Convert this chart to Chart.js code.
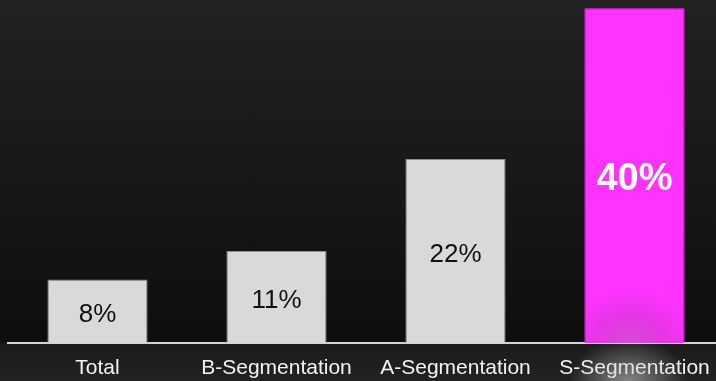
<!DOCTYPE html>
<html>
<head>
<meta charset="utf-8">
<script src="https://cdn.jsdelivr.net/npm/chart.js@4.4.1/dist/chart.umd.min.js"></script>
<style>
    html, body { margin:0; padding:0; overflow:hidden; }
    body {
        width:716px; height:381px;
        background: linear-gradient(to bottom, #222 0px, #0e0e0e 341px, #1b1b1b 344px, #222 381px);
    }
    #wrap { position:relative; width:724px; height:381px; }
</style>
</head>
<body>
<div id="wrap"><canvas id="segChart"></canvas></div>
<script>
// values (percent)
const categories = ['Total', 'B-Segmentation', 'A-Segmentation', 'S-Segmentation'];
const shares = [7.6, 11, 22, 40];
const shareLabels = ['8%', '11%', '22%', '40%'];
const barColors = ['#d9d9d9', '#d9d9d9', '#d9d9d9', '#ff33ff'];
const borderColors = ['#8c8c8c', '#8c8c8c', '#8c8c8c', '#ff33ff'];

// value labels in the middle of each bar + the floor reflection under the last one
const barText = {
    id: 'barText',
    afterDatasetsDraw(chart) {
        const ctx = chart.ctx;
        const meta = chart.getDatasetMeta(0);
        const floor = chart.chartArea.bottom;
        const last = meta.data[3];
        ctx.save();

        // darker tint on the bottom of the pink bar
        ctx.save();
        ctx.beginPath();
        ctx.rect(last.x - last.width / 2, last.y, last.width, floor - last.y);
        ctx.clip();
        ctx.translate(last.x - 4, floor);
        ctx.scale(1, 0.85);
        let g = ctx.createRadialGradient(0, 0, 0, 0, 0, 65);
        g.addColorStop(0, 'rgba(170,110,170,0.45)');
        g.addColorStop(0.6, 'rgba(150,60,150,0.2)');
        g.addColorStop(1, 'rgba(150,60,150,0)');
        ctx.fillStyle = g;
        ctx.fillRect(-80, -80, 160, 80);
        ctx.restore();

        // light glow under the axis
        ctx.save();
        ctx.beginPath();
        ctx.rect(last.x - 90, floor + 1, 180, 60);
        ctx.clip();
        ctx.translate(last.x - 6, 382);
        ctx.scale(1, 0.75);
        g = ctx.createRadialGradient(0, 0, 0, 0, 0, 60);
        g.addColorStop(0, 'rgba(200,200,200,0.6)');
        g.addColorStop(1, 'rgba(200,200,200,0)');
        ctx.fillStyle = g;
        ctx.fillRect(-80, -80, 160, 80);
        ctx.restore();

        meta.data.forEach((bar, i) => {
            const { x, y, base } = bar.getProps(['x', 'y', 'base'], true);
            const mid = (y + base) / 2;
            if (i === 3) {
                ctx.font = 'bold 38px "Liberation Sans", Arial, sans-serif';
                ctx.fillStyle = '#ffffff';
            } else {
                ctx.font = '26px "Liberation Sans", Arial, sans-serif';
                ctx.fillStyle = '#111111';
            }
            ctx.textAlign = 'center';
            ctx.textBaseline = 'middle';
            ctx.fillText(shareLabels[i], x, mid + 4);
        });
        ctx.restore();
    }
};

new Chart(document.getElementById('segChart'), {
    type: 'bar',
    data: {
        labels: categories,
        datasets: [{
            data: shares,
            backgroundColor: barColors,
            borderColor: borderColors,
            borderWidth: 1,
            categoryPercentage: 1,
            barPercentage: 0.56
        }]
    },
    options: {
        responsive: true,
        maintainAspectRatio: false,
        animation: false,
        layout: { padding: { left: 8, right: 0, top: 0, bottom: 0 } },
        plugins: { legend: { display: false }, tooltip: { enabled: false } },
        scales: {
            x: {
                grid: { display: false, drawTicks: false },
                border: { display: true, color: '#d4d4d4', width: 2 },
                ticks: {
                    color: '#f2f2f2',
                    padding: 13,
                    maxRotation: 0,
                    autoSkip: false,
                    font: { family: '"Liberation Sans", Arial, sans-serif', size: 21 }
                },
                afterFit(scale) { scale.height = 38; }
            },
            y: {
                display: false,
                min: 0,
                max: 41
            }
        }
    },
    plugins: [barText]
});
</script>
</body>
</html>
